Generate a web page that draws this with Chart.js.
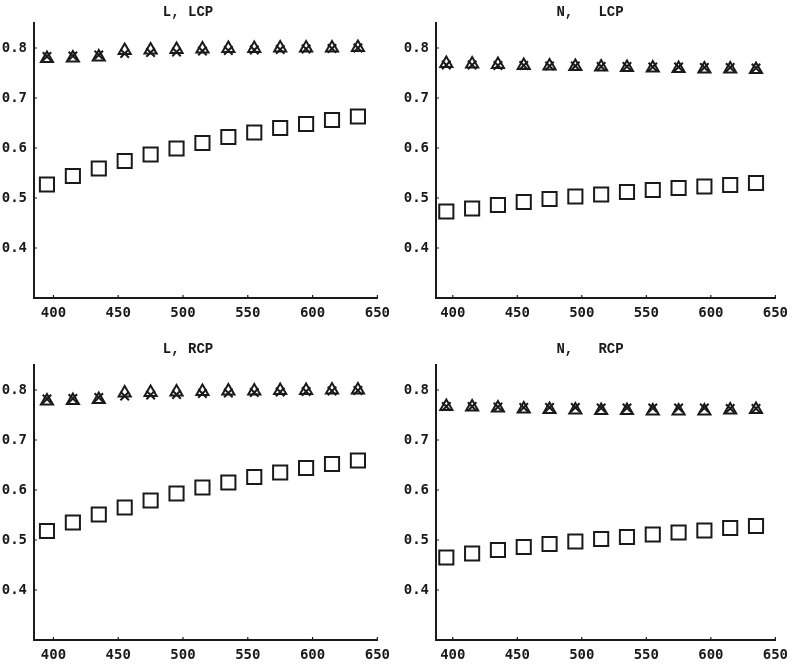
<!DOCTYPE html>
<html>
<head>
<meta charset="utf-8">
<script src="https://cdn.jsdelivr.net/npm/chart.js@4.4.0/dist/chart.umd.min.js"></script>
<style>
  body { margin: 0; background: #fff; width: 795px; height: 664px; overflow: hidden; position: relative; }
  .panel { position: absolute; }
</style>
</head>
<body>
<div class="panel" id="p1" style="left:-2px; top:0px; width:399px; height:322px;"><canvas id="c1"></canvas></div>
<div class="panel" id="p2" style="left:400px; top:0px; width:395px; height:322px;"><canvas id="c2"></canvas></div>
<div class="panel" id="p3" style="left:-2px; top:335px; width:399px; height:329px;"><canvas id="c3"></canvas></div>
<div class="panel" id="p4" style="left:400px; top:335px; width:395px; height:329px;"><canvas id="c4"></canvas></div>
<script>
// wavelengths (x) and tick labels
const wavelengths = [395, 415, 435, 455, 475, 495, 515, 535, 555, 575, 595, 615, 635];
const xTicks = [400, 450, 500, 550, 600, 650];
const yTicks = [0.4, 0.5, 0.6, 0.7, 0.8];

// L, LCP
const lLcpSquares   = [0.527, 0.544, 0.559, 0.574, 0.587, 0.599, 0.610, 0.622, 0.631, 0.640, 0.648, 0.656, 0.663];
const lLcpTriangles = [0.779, 0.780, 0.782, 0.795, 0.796, 0.797, 0.798, 0.799, 0.799, 0.800, 0.800, 0.800, 0.801];
const lLcpCrosses   = [0.783, 0.784, 0.786, 0.789, 0.791, 0.792, 0.794, 0.795, 0.796, 0.797, 0.798, 0.799, 0.800];

// N, LCP
const nLcpSquares   = [0.473, 0.479, 0.486, 0.492, 0.498, 0.503, 0.507, 0.512, 0.516, 0.520, 0.523, 0.526, 0.530];
const nLcpTriangles = [0.769, 0.768, 0.767, 0.765, 0.764, 0.763, 0.762, 0.761, 0.760, 0.759, 0.758, 0.758, 0.757];
const nLcpCrosses   = [0.766, 0.766, 0.765, 0.765, 0.764, 0.764, 0.763, 0.763, 0.762, 0.762, 0.761, 0.761, 0.760];

// L, RCP
const lRcpSquares   = [0.518, 0.535, 0.551, 0.565, 0.579, 0.593, 0.605, 0.615, 0.626, 0.635, 0.644, 0.652, 0.659];
const lRcpTriangles = [0.778, 0.779, 0.781, 0.794, 0.795, 0.796, 0.797, 0.798, 0.798, 0.799, 0.799, 0.800, 0.800];
const lRcpCrosses   = [0.782, 0.783, 0.785, 0.788, 0.790, 0.791, 0.793, 0.794, 0.795, 0.796, 0.797, 0.798, 0.799];

// N, RCP
const nRcpSquares   = [0.465, 0.473, 0.480, 0.486, 0.492, 0.497, 0.502, 0.506, 0.511, 0.515, 0.519, 0.524, 0.528];
const nRcpTriangles = [0.767, 0.766, 0.764, 0.762, 0.761, 0.760, 0.759, 0.759, 0.758, 0.758, 0.758, 0.760, 0.761];
const nRcpCrosses   = [0.767, 0.767, 0.766, 0.765, 0.765, 0.765, 0.764, 0.764, 0.764, 0.764, 0.764, 0.763, 0.763];

const INK = '#1a1a1a';
const tickFont = { family: "'DejaVu Sans Mono', monospace", weight: 'bold', size: 14 };
const titleFont = { family: "'Liberation Mono', 'DejaVu Sans Mono', monospace", weight: 'bold', size: 14, lineHeight: 1.2 };

function pts(values) {
    return wavelengths.map((w, i) => ({ x: w, y: values[i] }));
}

// small tick marks pointing into the plot, like the original
const inwardTicks = {
    id: 'inwardTicks',
    afterDraw(chart) {
        const ctx = chart.ctx;
        const xs = chart.scales.x, ys = chart.scales.y;
        const area = chart.chartArea;
        ctx.save();
        ctx.strokeStyle = INK;
        ctx.lineWidth = 1.2;
        ctx.beginPath();
        xTicks.forEach(v => {
            const px = xs.getPixelForValue(v);
            ctx.moveTo(px, area.bottom);
            ctx.lineTo(px, area.bottom - 3);
        });
        yTicks.forEach(v => {
            const py = ys.getPixelForValue(v);
            ctx.moveTo(area.left, py);
            ctx.lineTo(area.left + 3, py);
        });
        ctx.stroke();
        ctx.restore();
    }
};

function makePanel(canvasId, title, squares, triangles, crosses, opt) {
    const ctx = document.getElementById(canvasId).getContext('2d');
    return new Chart(ctx, {
        type: 'scatter',
        data: {
            datasets: [
                {
                    label: 'squares',
                    data: pts(squares),
                    pointStyle: 'rect',
                    pointRadius: 10,
                    borderColor: INK,
                    backgroundColor: 'rgba(0,0,0,0)',
                    borderWidth: 2
                },
                {
                    label: 'triangles',
                    data: pts(triangles),
                    pointStyle: 'triangle',
                    pointRadius: 7,
                    borderColor: INK,
                    backgroundColor: 'rgba(0,0,0,0)',
                    borderWidth: 2
                },
                {
                    label: 'crosses',
                    data: pts(crosses),
                    pointStyle: 'crossRot',
                    pointRadius: 6,
                    borderColor: INK,
                    backgroundColor: 'rgba(0,0,0,0)',
                    borderWidth: 2
                }
            ]
        },
        options: {
            responsive: true,
            maintainAspectRatio: false,
            animation: false,
            layout: { padding: { left: 0, right: opt.rightPad, top: 0, bottom: 0 } },
            plugins: {
                legend: { display: false },
                tooltip: { enabled: false },
                title: {
                    display: true,
                    text: title,
                    color: INK,
                    font: titleFont,
                    padding: { top: opt.titleTop, bottom: opt.titleBottom }
                }
            },
            scales: {
                x: {
                    type: 'linear',
                    min: opt.xMin,
                    max: 650,
                    afterBuildTicks: scale => { scale.ticks = xTicks.map(v => ({ value: v })); },
                    afterFit: scale => { scale.height = 24; },
                    grid: { display: true, drawOnChartArea: false, drawTicks: false },
                    border: { display: true, color: INK, width: 2 },
                    ticks: { color: INK, font: tickFont, padding: 7, maxRotation: 0 }
                },
                y: {
                    type: 'linear',
                    min: 0.3,
                    max: 0.85,
                    afterBuildTicks: scale => { scale.ticks = yTicks.map(v => ({ value: v })); },
                    afterFit: scale => { scale.width = 36; },
                    grid: { display: true, drawOnChartArea: false, drawTicks: false },
                    border: { display: true, color: INK, width: 2 },
                    ticks: { color: INK, font: tickFont, padding: 7, callback: v => v.toFixed(1) }
                }
            }
        },
        plugins: [inwardTicks]
    });
}

makePanel('c1', 'L, LCP', lLcpSquares, lLcpTriangles, lLcpCrosses,
    { xMin: 385, rightPad: 19, titleTop: 3.6, titleBottom: 2.6 });
makePanel('c2', 'N,   LCP', nLcpSquares, nLcpTriangles, nLcpCrosses,
    { xMin: 387, rightPad: 15, titleTop: 3.6, titleBottom: 2.6 });
makePanel('c3', 'L, RCP', lRcpSquares, lRcpTriangles, lRcpCrosses,
    { xMin: 385, rightPad: 19, titleTop: 5.6, titleBottom: 7.6 });
makePanel('c4', 'N,   RCP', nRcpSquares, nRcpTriangles, nRcpCrosses,
    { xMin: 387, rightPad: 15, titleTop: 5.6, titleBottom: 7.6 });
</script>
</body>
</html>
